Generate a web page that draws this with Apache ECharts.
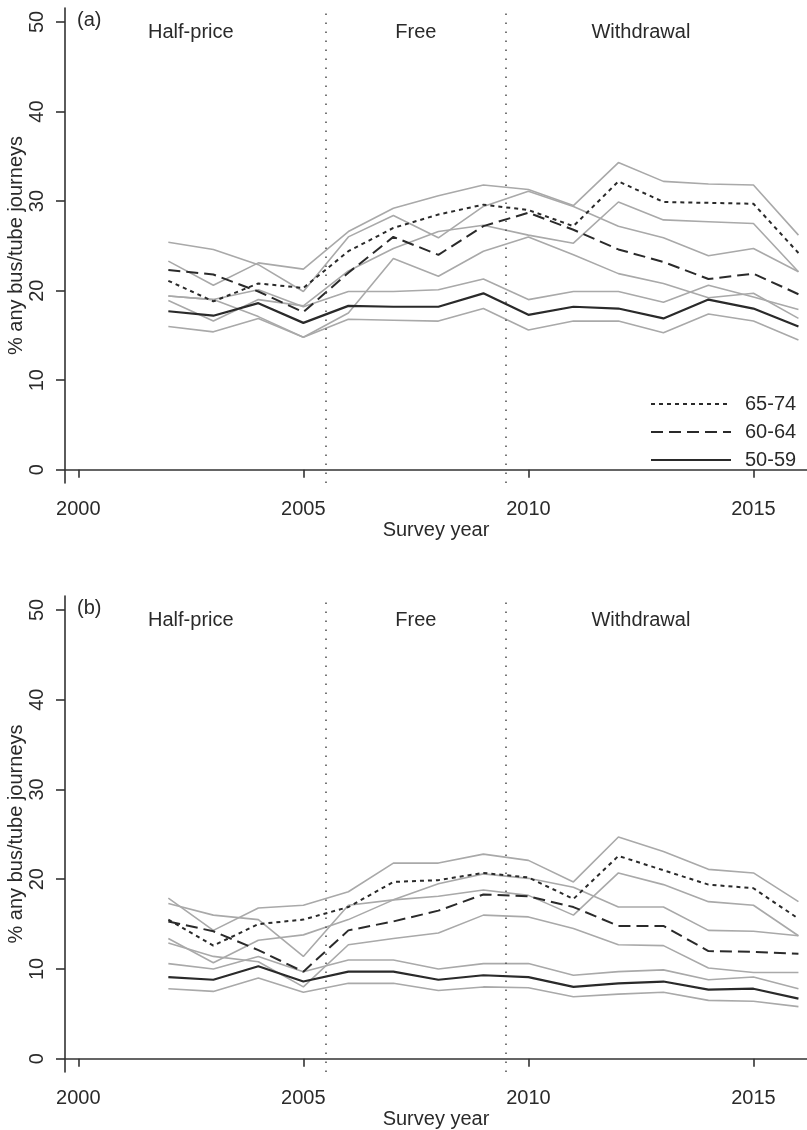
<!DOCTYPE html>
<html>
<head>
<meta charset="utf-8">
<script src="https://cdn.jsdelivr.net/npm/echarts@6/dist/echarts.min.js"></script>
<style>
  html, body { margin: 0; padding: 0; background: #fff; }
  #main { width: 807px; height: 1130px; }
</style>
</head>
<body>
<div id="main"></div>
<script>
// survey years and axis ticks
const years = [2002, 2003, 2004, 2005, 2006, 2007, 2008, 2009, 2010, 2011, 2012, 2013, 2014, 2015, 2016]
const xTicks = [2000, 2005, 2010, 2015]
const yTicks = [0, 10, 20, 30, 40, 50]
const policyBreaks = [2005.5, 2009.5]
const periodNames = ['Half-price', 'Free', 'Withdrawal']
const periodCentres = [2002.5, 2007.5, 2012.5]
const ageGroups = ['65-74', '60-64', '50-59']
const panelTags = ['(a)', '(b)']

// panel (a)
const a65 = [21.1, 18.8, 20.8, 20.3, 24.4, 27.0, 28.5, 29.6, 29.0, 27.2, 32.2, 29.9, 29.8, 29.7, 24.2]
const a65hi = [23.3, 20.6, 23.1, 22.4, 26.6, 29.2, 30.6, 31.8, 31.3, 29.5, 34.3, 32.2, 31.9, 31.8, 26.2]
const a65lo = [18.9, 16.6, 19.0, 18.3, 22.2, 24.7, 26.6, 27.3, 26.2, 25.3, 29.9, 27.9, 27.7, 27.5, 22.1]
const a60 = [22.3, 21.8, 19.9, 17.6, 22.0, 26.0, 24.0, 27.2, 28.7, 26.8, 24.6, 23.2, 21.3, 21.9, 19.6]
const a60hi = [25.4, 24.6, 22.9, 19.9, 26.0, 28.4, 25.9, 29.4, 31.1, 29.4, 27.2, 25.9, 23.9, 24.7, 22.1]
const a60lo = [19.4, 19.0, 17.1, 14.8, 17.5, 23.6, 21.6, 24.4, 26.0, 24.0, 21.9, 20.8, 19.2, 19.7, 16.9]
const a50 = [17.7, 17.2, 18.6, 16.4, 18.3, 18.2, 18.2, 19.7, 17.3, 18.2, 18.0, 16.9, 19.0, 18.0, 16.0]
const a50hi = [19.4, 19.0, 20.1, 18.2, 19.9, 19.9, 20.1, 21.3, 19.0, 19.9, 19.9, 18.7, 20.6, 19.3, 17.9]
const a50lo = [16.0, 15.4, 16.9, 14.8, 16.8, 16.7, 16.6, 18.0, 15.6, 16.6, 16.6, 15.3, 17.4, 16.6, 14.5]

// panel (b)
const b65 = [15.5, 12.6, 15.0, 15.5, 16.9, 19.7, 19.9, 20.7, 20.2, 17.8, 22.6, 21.0, 19.4, 19.0, 15.6]
const b65hi = [17.9, 14.3, 16.8, 17.1, 18.6, 21.8, 21.8, 22.8, 22.1, 19.7, 24.7, 23.1, 21.1, 20.7, 17.5]
const b65lo = [13.4, 10.7, 13.2, 13.8, 15.5, 17.7, 18.1, 18.8, 18.2, 16.0, 20.7, 19.4, 17.5, 17.1, 13.7]
const b60 = [15.3, 14.2, 12.1, 9.7, 14.3, 15.3, 16.5, 18.3, 18.1, 16.9, 14.8, 14.8, 12.0, 11.9, 11.7]
const b60hi = [17.3, 16.0, 15.5, 11.4, 17.1, 17.7, 19.5, 20.6, 20.1, 19.1, 16.9, 16.9, 14.3, 14.2, 13.7]
const b60lo = [12.9, 11.4, 10.8, 8.0, 12.7, 13.4, 14.0, 16.0, 15.8, 14.5, 12.7, 12.6, 10.1, 9.6, 9.6]
const b50 = [9.1, 8.8, 10.3, 8.6, 9.7, 9.7, 8.8, 9.3, 9.1, 8.0, 8.4, 8.6, 7.7, 7.8, 6.7]
const b50hi = [10.6, 10.0, 11.4, 9.7, 11.0, 11.0, 10.0, 10.6, 10.6, 9.3, 9.7, 9.9, 8.8, 9.1, 7.8]
const b50lo = [7.8, 7.5, 9.0, 7.4, 8.4, 8.4, 7.6, 8.0, 7.9, 6.9, 7.2, 7.4, 6.5, 6.4, 5.8]

const FONT = "'Liberation Sans', Arial, sans-serif"
const INK = '#2a2a2a'
const GREY = '#a9a9a9'
const LABEL_LEVEL = 48.8
const lineTypes = {
    '65-74': { type: [4, 4], width: 2 },
    '60-64': { type: [12, 6], width: 2 },
    '50-59': { type: 'solid', width: 2.2 }
}

const pairs = vals => years.map((y, i) => [y, vals[i]])

const buildPanel = (idx, groups) => {
    let series = []
    groups.forEach(g => {
        ;[g.hi, g.lo].forEach(ci => {
            series.push({
                name: 'ci',
                type: 'line',
                xAxisIndex: idx,
                yAxisIndex: idx,
                symbol: 'none',
                silent: true,
                z: 2,
                lineStyle: { color: GREY, width: 1.6 },
                data: pairs(ci)
            })
        })
    })
    groups.forEach((g, k) => {
        let s = {
            name: g.name,
            type: 'line',
            xAxisIndex: idx,
            yAxisIndex: idx,
            symbol: 'none',
            silent: true,
            z: 3,
            itemStyle: { color: INK },
            lineStyle: Object.assign({ color: INK }, lineTypes[g.name]),
            data: pairs(g.mid)
        }
        if (k === 0) {
            s.markLine = {
                silent: true,
                symbol: ['none', 'none'],
                label: { show: false },
                lineStyle: { color: '#555', width: 1.6, type: [1.6, 7.4] },
                data: policyBreaks.map(v => ({ xAxis: v }))
            }
        }
        series.push(s)
    })
    return series
}

const xAxisFor = idx => ({
    type: 'value',
    gridIndex: idx,
    min: 1999.704,
    max: 2016.19,
    name: 'Survey year',
    nameLocation: 'middle',
    nameGap: 37,
    nameTextStyle: { color: INK, fontSize: 20, fontFamily: FONT },
    axisLine: { show: true, lineStyle: { color: '#333', width: 1.6 } },
    axisTick: { show: true, customValues: xTicks, length: 8, lineStyle: { color: '#333', width: 1.6 } },
    axisLabel: {
        customValues: xTicks,
        margin: 16,
        color: INK,
        fontSize: 20,
        fontFamily: FONT,
        formatter: v => String(v)
    },
    splitLine: { show: false }
})

const yAxisFor = idx => ({
    type: 'value',
    gridIndex: idx,
    min: -1.48,
    max: 51.56,
    name: '% any bus/tube journeys',
    nameLocation: 'middle',
    nameGap: 39,
    nameMoveOverlap: false,
    nameTextStyle: { color: INK, fontSize: 20, fontFamily: FONT },
    axisLine: { show: true, lineStyle: { color: '#333', width: 1.6 } },
    axisTick: { show: true, customValues: yTicks, length: 9, lineStyle: { color: '#333', width: 1.6 } },
    axisLabel: {
        customValues: yTicks,
        rotate: 90,
        margin: 18,
        color: INK,
        fontSize: 20,
        fontFamily: FONT
    },
    splitLine: { show: false }
})

const option = {
    animation: false,
    backgroundColor: '#fff',
    textStyle: { fontFamily: FONT },
    grid: [
        { left: 65, top: 8, width: 742, height: 475, containLabel: false, outerBoundsMode: 'none' },
        { left: 65, top: 596, width: 742, height: 476, containLabel: false, outerBoundsMode: 'none' }
    ],
    xAxis: [xAxisFor(0), xAxisFor(1)],
    yAxis: [yAxisFor(0), yAxisFor(1)],
    legend: {
        data: ageGroups,
        orient: 'vertical',
        left: 645,
        top: 389,
        itemWidth: 80,
        itemHeight: 14,
        itemGap: 8,
        selectedMode: false,
        itemStyle: { opacity: 0 },
        textStyle: { color: INK, fontSize: 20, fontFamily: FONT, padding: [0, 0, 0, 9] }
    },
    series: [].concat(
        buildPanel(0, [
            { name: '65-74', mid: a65, hi: a65hi, lo: a65lo },
            { name: '60-64', mid: a60, hi: a60hi, lo: a60lo },
            { name: '50-59', mid: a50, hi: a50hi, lo: a50lo }
        ]),
        buildPanel(1, [
            { name: '65-74', mid: b65, hi: b65hi, lo: b65lo },
            { name: '60-64', mid: b60, hi: b60hi, lo: b60lo },
            { name: '50-59', mid: b50, hi: b50hi, lo: b50lo }
        ])
    )
}

const chart = echarts.init(document.getElementById('main'))
chart.setOption(option)

// panel tags and period names, placed through each panel's own scales
let texts = []
panelTags.forEach((tag, idx) => {
    let top = chart.convertToPixel({ gridIndex: idx }, [1999.704, LABEL_LEVEL])
    texts.push({
        type: 'text',
        x: 77,
        y: top[1] - 12,
        style: { text: tag, fill: INK, fontSize: 20, fontFamily: FONT, align: 'left', verticalAlign: 'middle' }
    })
    periodNames.forEach((name, i) => {
        let p = chart.convertToPixel({ gridIndex: idx }, [periodCentres[i], LABEL_LEVEL])
        texts.push({
            type: 'text',
            x: p[0],
            y: p[1],
            style: { text: name, fill: INK, fontSize: 20, fontFamily: FONT, align: 'center', verticalAlign: 'middle' }
        })
    })
})
chart.setOption({ graphic: texts })
</script>
</body>
</html>
